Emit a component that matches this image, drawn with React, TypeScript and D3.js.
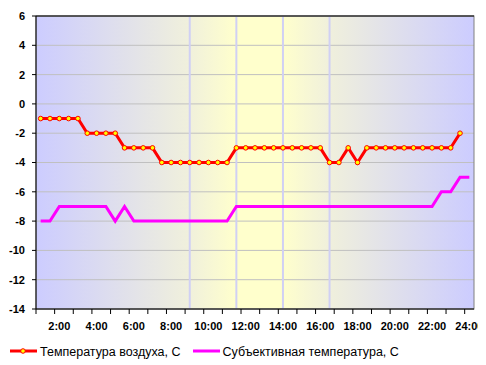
import React from "react";
import * as d3 from "d3";

// half-hour categories
const times = [
  "1:00", "1:30", "2:00", "2:30", "3:00", "3:30", "4:00", "4:30", "5:00", "5:30",
  "6:00", "6:30", "7:00", "7:30", "8:00", "8:30", "9:00", "9:30", "10:00", "10:30",
  "11:00", "11:30", "12:00", "12:30", "13:00", "13:30", "14:00", "14:30", "15:00", "15:30",
  "16:00", "16:30", "17:00", "17:30", "18:00", "18:30", "19:00", "19:30", "20:00", "20:30",
  "21:00", "21:30", "22:00", "22:30", "23:00", "23:30", "24:00",
];

// Температура воздуха (ends at 23:30)
const airTemp = [
  -1, -1, -1, -1, -1, -2, -2, -2, -2, -3,
  -3, -3, -3, -4, -4, -4, -4, -4, -4, -4,
  -4, -3, -3, -3, -3, -3, -3, -3, -3, -3,
  -3, -4, -4, -3, -4, -3, -3, -3, -3, -3,
  -3, -3, -3, -3, -3, -2,
];

// Субъективная температура
const feltTemp = [
  -8, -8, -7, -7, -7, -7, -7, -7, -8, -7,
  -8, -8, -8, -8, -8, -8, -8, -8, -8, -8,
  -8, -7, -7, -7, -7, -7, -7, -7, -7, -7,
  -7, -7, -7, -7, -7, -7, -7, -7, -7, -7,
  -7, -7, -7, -6, -6, -5, -5,
];

const xLabels = ["2:00", "4:00", "6:00", "8:00", "10:00", "12:00", "14:00", "16:00", "18:00", "20:00", "22:00", "24:00"];
const yTicks = [6, 4, 2, 0, -2, -4, -6, -8, -10, -12, -14];
const markTimes = ["9:00", "11:30", "14:00", "16:30"];

const W = 486, H = 365;
const left = 36, right = 474, top = 16, bottom = 309;

export default function App() {
  const x = d3.scaleBand<string>().domain(times).range([left, right]).padding(0);
  const bw = x.bandwidth();
  const cx = (t: string) => (x(t) as number) + bw / 2;
  const y = d3.scaleLinear().domain([-14, 6]).range([bottom, top]);

  const line = d3.line<[string, number]>().x(d => cx(d[0])).y(d => y(d[1]));
  const airPts: [string, number][] = airTemp.map((v, i) => [times[i], v]);
  const feltPts: [string, number][] = feltTemp.map((v, i) => [times[i], v]);

  const tickXs = times.filter((_, i) => i % 2 === 0).map(t => x(t) as number);
  const font = "Arial, 'Liberation Sans', sans-serif";

  return (
    <svg width={W} height={H} style={{ position: "absolute", left: 0, top: 0, background: "#fff" }}>
      <defs>
        <linearGradient id="bg" x1="0" x2="1" y1="0" y2="0">
          <stop offset="0" stopColor="#ccccff" />
          <stop offset="0.35" stopColor="#f0f0dc" />
          <stop offset="0.457" stopColor="#ffffcc" />
          <stop offset="0.562" stopColor="#ffffcc" />
          <stop offset="0.669" stopColor="#f0f0dc" />
          <stop offset="1" stopColor="#ccccff" />
        </linearGradient>
        <clipPath id="clipLbl">
          <rect x={0} y={0} width={478} height={H} />
        </clipPath>
      </defs>
      <rect x={left} y={top} width={right - left} height={bottom - top} fill="url(#bg)" />
      {yTicks.map(v => (
        <line key={"g" + v} x1={left} x2={right} y1={y(v)} y2={y(v)} stroke="#c0c0c0" strokeWidth={1} />
      ))}
      {markTimes.map(t => (
        <line key={"m" + t} x1={cx(t)} x2={cx(t)} y1={top} y2={bottom} stroke="#d0d0f4" strokeWidth={2} />
      ))}
      <rect x={left} y={top} width={right - left} height={bottom - top} fill="none" stroke="#808080" strokeWidth={1} />
      <line x1={left} x2={right} y1={top} y2={top} stroke="#000" strokeWidth={1} />
      <line x1={left} x2={left} y1={top} y2={bottom} stroke="#000" strokeWidth={1} />
      <line x1={left} x2={right} y1={bottom} y2={bottom} stroke="#000" strokeWidth={1} />
      {yTicks.map(v => (
        <g key={"y" + v}>
          <line x1={left - 4} x2={left} y1={y(v)} y2={y(v)} stroke="#000" />
          <text x={25} y={y(v)} dy="0.36em" textAnchor="end" fontFamily={font} fontWeight="bold" fontSize={11}>{v}</text>
        </g>
      ))}
      {tickXs.map((tx, i) => (
        <line key={"t" + i} x1={tx} x2={tx} y1={bottom} y2={bottom + 5} stroke="#000" />
      ))}
      <g clipPath="url(#clipLbl)">
        {xLabels.map(l => (
          <text key={l} x={cx(l)} y={330} textAnchor="middle" fontFamily={font} fontWeight="bold" fontSize={11}>{l}</text>
        ))}
      </g>
      <path d={line(feltPts) as string} fill="none" stroke="#ff00ff" strokeWidth={3} />
      <path d={line(airPts) as string} fill="none" stroke="#ff0000" strokeWidth={3} />
      {airPts.map((d, i) => (
        <circle key={"c" + i} cx={cx(d[0])} cy={y(d[1])} r={2.3} fill="#ffff00" stroke="#ff0000" strokeWidth={1} />
      ))}
      <g fontFamily={font} fontSize={12.5}>
        <line x1={10} x2={37} y1={351} y2={351} stroke="#ff0000" strokeWidth={3} />
        <circle cx={23} cy={351} r={2.3} fill="#ffff00" stroke="#ff0000" strokeWidth={1} />
        <text x={40} y={355.5}>Температура воздуха, С</text>
        <line x1={193} x2={220} y1={351} y2={351} stroke="#ff00ff" strokeWidth={3} />
        <text x={222.5} y={355.5}>Субъективная температура, С</text>
      </g>
    </svg>
  );
}
